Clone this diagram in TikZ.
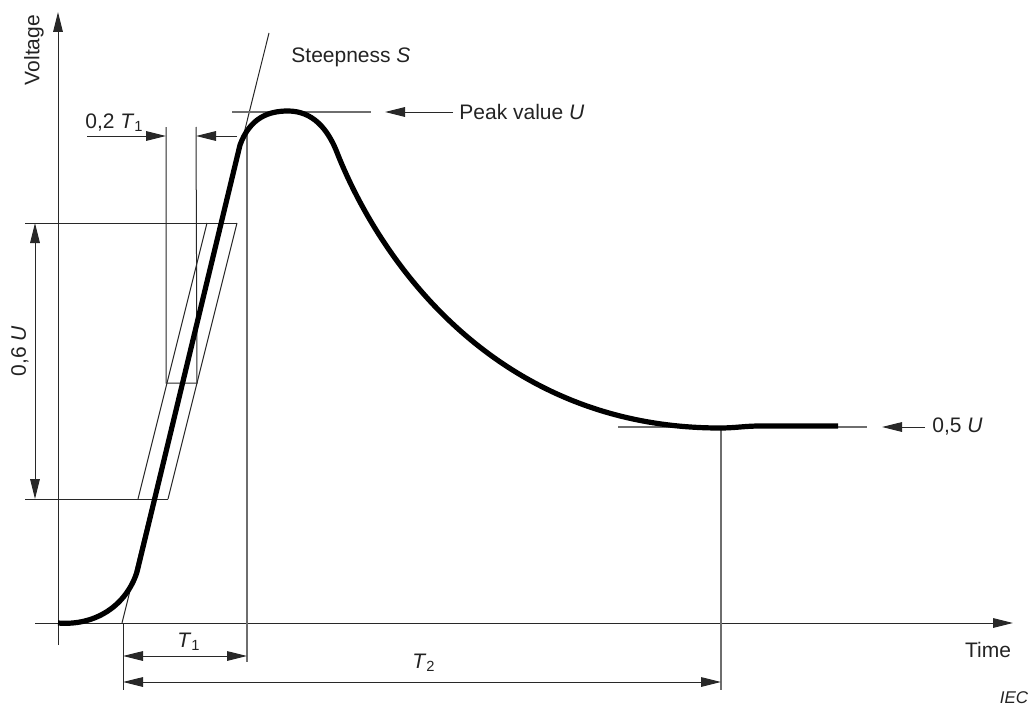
\documentclass[tikz,border=0pt]{standalone}
\usepackage{fontspec}
\setmainfont{Liberation Sans}
\usetikzlibrary{arrows.meta}
\definecolor{ln}{RGB}{40,40,40}
\definecolor{gln}{RGB}{110,110,110}
\definecolor{txt}{RGB}{35,35,35}
\begin{document}
\begin{tikzpicture}[x=0.5pt,y=-0.5pt,
  thin line/.style={draw=ln,line width=0.5pt},
  grey line/.style={draw=gln,line width=0.6pt},
  wave/.style={draw=black,line width=2.6pt,line join=round},
  tip/.style={-{Triangle[length=10pt,width=4.8pt]}},
  both tips/.style={{Triangle[length=10pt,width=4.8pt]}-{Triangle[length=10pt,width=4.8pt]}},
  lbl/.style={text=txt,font=\fontsize{10.5}{12}\selectfont,inner sep=0pt},
]
\useasboundingbox (0,0) rectangle (1031,706);

% named coordinates
\coordinate (vbot) at (58,645);
\coordinate (vtop) at (58,12);
\coordinate (tleft) at (35,623);
\coordinate (tright) at (1013,623);

% axes
\draw[thin line,tip] (vbot) -- (vtop);
\draw[thin line,tip] (tleft) -- (tright);

% steepness tangent
\coordinate (tan0) at (122,623);
\coordinate (tan1) at (269,33);
\draw[thin line] (tan0) -- (tan1);

% 0,6 U extension lines and dimension
\coordinate (u6a) at (25,223);
\coordinate (u6b) at (237,223);
\coordinate (u6c) at (25,499);
\coordinate (u6d) at (168,499);
\draw[thin line] (u6a) -- (u6b);
\draw[thin line] (u6c) -- (u6d);
\coordinate (d6a) at (35,223);
\coordinate (d6b) at (35,499);
\draw[thin line,both tips] (d6a) -- (d6b);

% tolerance band
\coordinate (pl0) at (138,499);
\coordinate (pl1) at (207,223);
\coordinate (pr0) at (168,499);
\coordinate (pr1) at (237,223);
\draw[thin line] (pl0) -- (pl1);
\draw[thin line] (pr0) -- (pr1);

% 0,2 T1 box
\coordinate (ba) at (166,127);
\coordinate (bb) at (166,383);
\coordinate (bc) at (196,127);
\coordinate (bd) at (197,383);
\draw[thin line] (ba) -- (bb) -- (bd) -- (bc);
\coordinate (a1s) at (87,136);
\coordinate (a1e) at (166,136);
\coordinate (a2s) at (237,136);
\coordinate (a2e) at (196,136);
\draw[thin line,tip] (a1s) -- (a1e);
\draw[thin line,tip] (a2s) -- (a2e);

% T1 verticals
\coordinate (t1v0) at (247,128);
\coordinate (t1v1) at (247,662);
\draw[grey line] (t1v0) -- (t1v1);
\coordinate (t0v0) at (123,623);
\coordinate (t0v1) at (123,690);
\draw[thin line] (t0v0) -- (t0v1);

% T2 vertical
\coordinate (t2v0) at (721,428);
\coordinate (t2v1) at (721,690);
\draw[grey line] (t2v0) -- (t2v1);

% peak line
\coordinate (pk0) at (232,112);
\coordinate (pk1) at (371,112);
\draw[grey line] (pk0) -- (pk1);
\coordinate (pka) at (453,112);
\coordinate (pkb) at (385,112);
\draw[thin line,tip] (pka) -- (pkb);

% half value line
\coordinate (hv0) at (618,427);
\coordinate (hv1) at (867,427);
\draw[grey line] (hv0) -- (hv1);
\coordinate (hva) at (925,427);
\coordinate (hvb) at (882,427);
\draw[thin line,tip] (hva) -- (hvb);

% dimensions T1, T2
\coordinate (T1a) at (123,656);
\coordinate (T1b) at (247,656);
\draw[thin line,both tips] (T1a) -- (T1b);
\coordinate (T2a) at (123,682);
\coordinate (T2b) at (721,682);
\draw[thin line,both tips] (T2a) -- (T2b);

% waveform
\draw[wave] (58,623) .. controls (95,626) and (126,606) .. (137,572)
  -- (240,145) .. controls (250,118) and (268,111) .. (288,111)
  .. controls (312,111) and (328,128) .. (338,155)
  .. controls (383,267) and (500,428) .. (720,428)
  .. controls (735,428) and (745,426) .. (760,426) -- (838,426);

% labels
\node[lbl,rotate=90] (volt) at (34,50) {Voltage};
\node[lbl,anchor=west] (steep) at (291,57) {Steepness \textit{S}};
\node[lbl,anchor=west] (peak) at (459,112) {Peak value \textit{U}};
\node[lbl,anchor=base west] (p2t) at (85,128) {0,2 \textit{T}\textsubscript{1}};
\node[lbl,rotate=90] (u6) at (20,351) {0,6 \textit{U}};
\node[lbl,anchor=west] (u5) at (932,427) {0,5 \textit{U}};
\node[lbl,anchor=base west] (lt1) at (177,647) {\textit{T}\textsubscript{1}};
\node[lbl,anchor=base west] (lt2) at (412,668) {\textit{T}\textsubscript{2}};
\node[lbl] (time) at (988,650) {Time};
\node[text=txt,font=\fontsize{8.5}{10}\selectfont\itshape,inner sep=0pt] (iec) at (1014,698) {IEC};
\end{tikzpicture}
\end{document}
